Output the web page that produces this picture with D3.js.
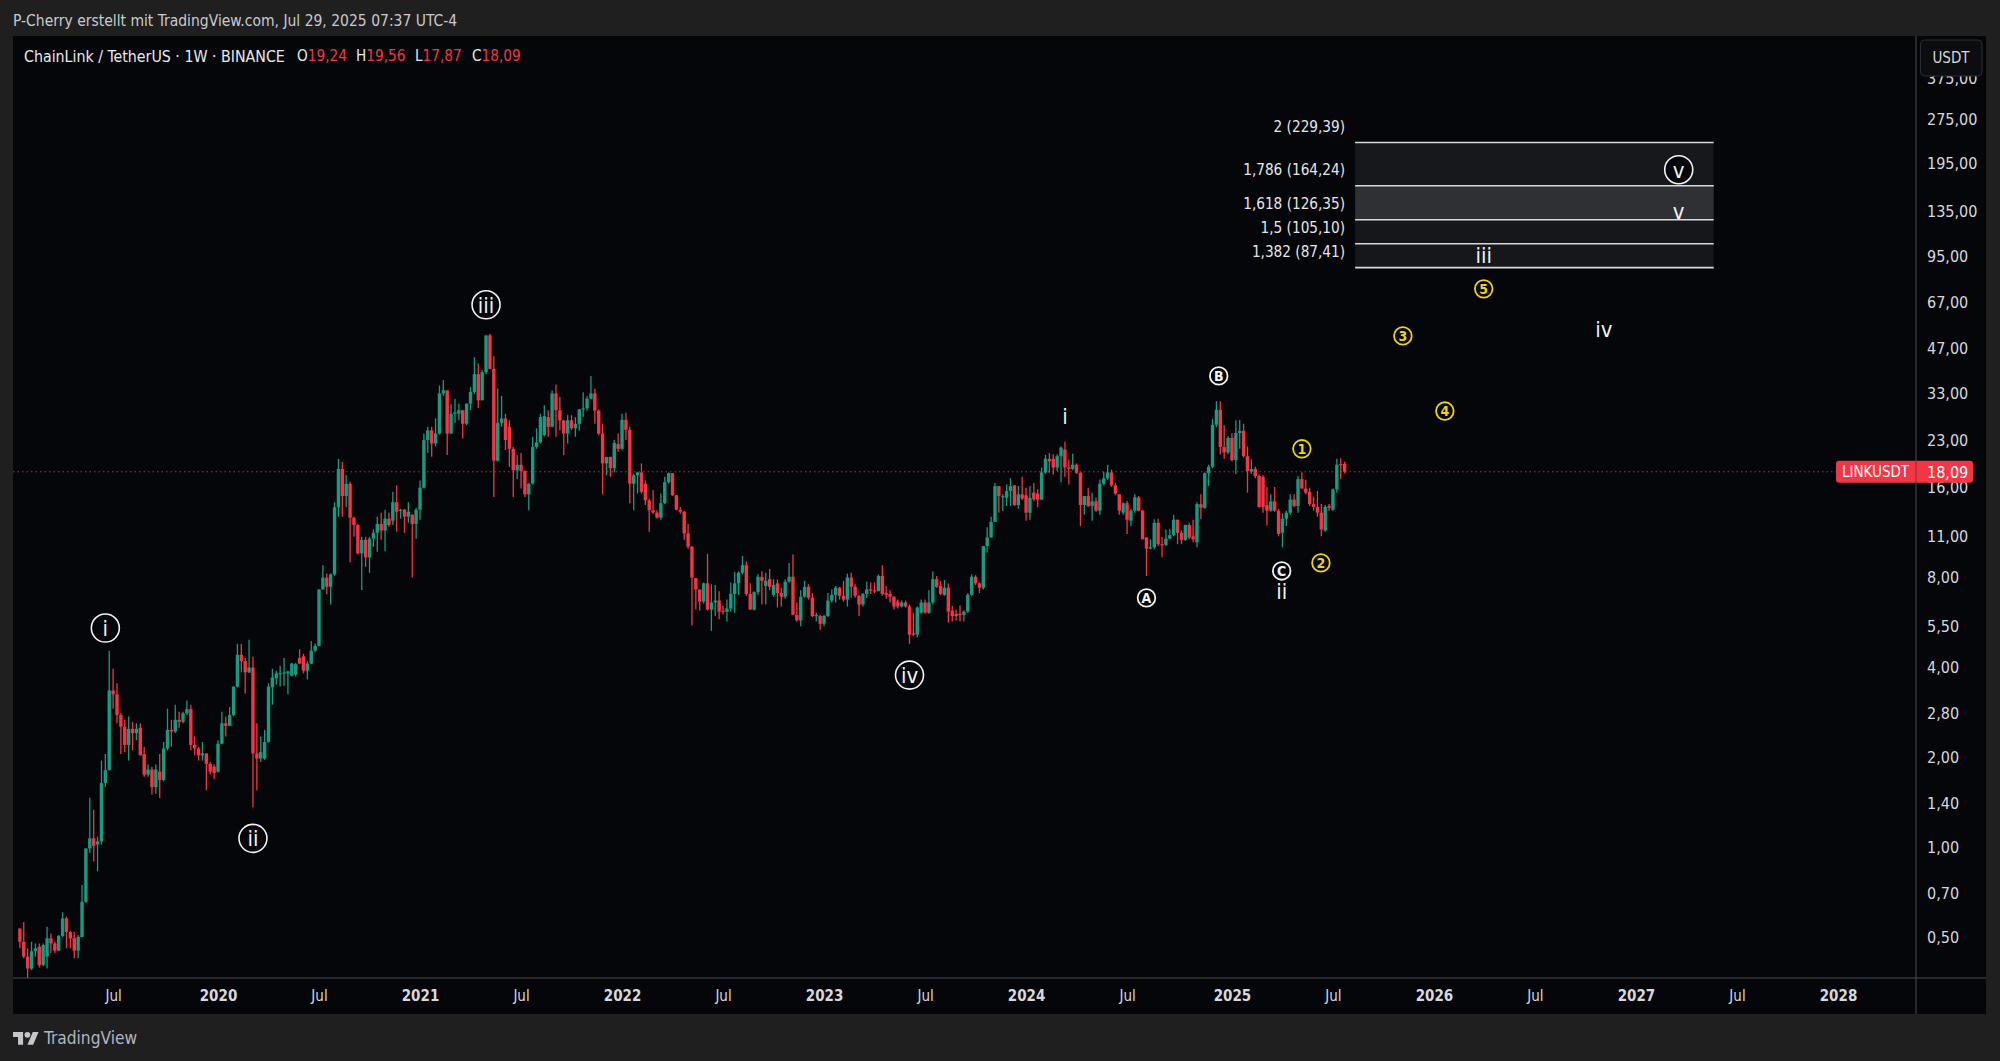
<!DOCTYPE html>
<html>
<head>
<meta charset="utf-8">
<script src="https://cdn.jsdelivr.net/npm/d3@7/dist/d3.min.js"></script>
<style>
  html, body { margin: 0; padding: 0; background: #1f1f1f; overflow: hidden; }
  svg text { font-family: "DejaVu Sans Condensed", "DejaVu Sans", sans-serif; }
</style>
</head>
<body>
<svg id="chart" width="2000" height="1061"></svg>
<script>
// weekly candles, first bar is the week of 14 Jan 2019
var opens = [
  .534,.482,.43,.392,.448,.464,.403,.43,.495,.476,
  .45,.504,.577,.52,.495,.45,.5,.656,.99,1.07,
  1.02,1.045,1.64,1.81,3.35,3.25,2.77,2.53,2.2,2.49,
  2.41,2.51,2.05,1.75,1.82,1.59,1.79,1.68,2.14,2.47,
  2.44,2.67,2.63,2.81,2.9,2.2,2.14,2.03,2.06,1.9,
  1.86,1.79,2.22,2.6,2.55,2.77,3.45,4.41,4.2,3.85,
  4.0,2.06,1.98,1.98,2.25,3.43,3.68,3.82,3.83,3.82,
  3.75,3.78,4.3,4.36,3.9,4.12,4.55,4.72,7.3,8.0,
  7.45,8.2,13.75,18.5,15.0,16.5,12.7,12.0,9.64,10.7,
  9.35,10.8,11.3,12.1,11.5,12.6,12.4,14.3,13.4,13.5,
  12.8,13.0,12.1,13.5,16.0,23.1,24.9,22.5,24.3,33.1,
  33.9,24.3,28.3,28.3,29.1,26.2,30.6,33.5,38.4,31.4,
  39.0,51.8,40.0,19.7,26.4,27.3,25.6,21.6,18.3,19.1,
  18.2,15.2,16.5,21.9,22.7,24.0,27.6,25.6,33.1,29.1,
  26.9,24.3,26.9,25.3,26.2,29.3,29.5,31.8,33.1,29.0,
  24.3,19.3,20.3,18.6,22.4,21.6,27.0,25.0,16.5,17.6,
  18.0,16.5,14.5,13.45,13.2,12.7,14.2,16.7,17.9,15.1,
  13.5,13.3,11.25,10.15,7.97,7.3,6.65,7.65,6.25,6.6,
  6.7,6.2,6.15,6.3,7.05,7.65,8.3,8.8,7.05,6.25,
  7.15,8.05,7.5,7.9,7.0,7.65,7.1,6.9,7.75,8.05,
  6.0,5.75,6.9,7.45,6.85,5.95,5.95,5.6,5.95,6.7,
  7.0,7.4,6.95,6.75,8.0,7.45,6.95,6.5,7.05,7.3,
  7.25,7.2,8.1,7.1,7.05,6.9,6.65,6.4,6.6,6.4,
  5.2,5.15,6.1,6.6,6.1,6.6,7.9,7.5,7.0,7.4,
  6.2,6.05,6.05,6.0,6.15,7.0,8.05,7.65,7.4,10.2,
  10.9,12.3,16.2,15.0,14.8,15.6,16.3,14.0,15.2,15.1,
  13.2,15.4,15.3,14.6,18.0,20.0,20.0,18.7,20.4,21.5,
  18.7,18.5,19.1,17.95,14.0,15.0,13.9,14.4,13.4,16.5,
  17.2,18.0,16.3,15.2,13.2,14.2,12.4,13.4,14.85,13.4,
  10.9,10.0,10.1,12.2,10.35,10.3,10.8,11.1,12.5,11.3,
  10.7,12.0,11.0,10.5,14.1,13.7,17.9,18.8,26.0,29.2,
  21.9,21.0,23.5,19.8,24.4,24.8,20.4,18.1,18.5,17.5,
  17.4,14.0,13.4,14.4,13.4,11.3,12.6,13.2,14.6,13.9,
  17.1,15.9,15.5,14.1,13.8,13.2,11.5,13.9,13.5,15.8,
  19.2,19.24
];
var highs = [
  .534,.561,.458,.482,.476,.476,.476,.541,.514,.482,
  .508,.605,.585,.525,.52,.508,.747,.99,1.465,1.335,
  1.085,1.95,2.05,4.55,3.96,3.54,2.82,2.67,2.74,2.63,
  2.6,2.6,2.17,1.89,1.86,1.89,2.05,2.25,2.91,2.67,
  3.0,2.84,2.84,3.1,3.0,2.35,2.17,2.25,2.06,1.93,
  1.89,2.28,2.84,2.74,2.95,3.45,4.8,4.8,4.3,4.95,
  4.34,2.6,2.35,2.47,3.54,3.96,3.9,4.05,4.3,3.9,
  4.15,4.15,4.6,4.44,4.2,4.9,4.81,7.3,8.8,8.25,
  8.25,14.3,20.0,19.5,17.6,16.8,12.8,12.1,10.96,10.96,
  10.96,11.6,12.8,13.2,13.5,13.2,15.5,16.3,13.6,13.6,
  14.3,13.0,13.7,16.9,24.3,25.6,25.6,27.3,35.2,36.7,
  33.9,30.6,31.7,30.6,29.1,30.6,34.8,43.8,41.7,39.6,
  51.8,52.5,44.1,34.4,32.5,28.3,26.9,21.9,20.6,20.9,
  18.3,16.6,23.7,25.3,28.3,30.2,29.1,33.9,35.5,32.2,
  27.0,28.0,28.0,27.6,29.3,33.4,32.4,37.9,34.3,29.3,
  26.2,20.3,20.3,23.1,24.3,28.3,28.5,25.6,17.8,18.1,
  19.3,16.9,14.7,15.7,13.45,15.3,17.4,18.0,17.9,15.1,
  13.8,13.4,12.1,10.2,7.97,7.3,7.7,9.6,7.6,7.55,
  7.2,6.42,6.75,7.7,8.35,8.4,9.45,9.05,7.65,7.2,
  8.2,8.4,8.3,8.55,7.9,7.88,7.4,7.9,8.95,9.55,
  6.6,7.25,7.8,7.6,7.1,6.1,6.0,6.0,7.1,7.3,
  7.5,7.45,7.8,8.25,8.3,7.6,7.0,7.1,7.75,7.7,
  7.7,8.2,8.8,7.5,7.25,6.95,6.75,6.7,6.7,6.5,
  6.1,6.4,6.75,6.75,7.25,8.4,8.1,7.8,7.85,7.65,
  6.42,6.25,6.45,6.2,7.1,8.2,8.15,7.7,10.2,11.8,
  12.8,16.6,16.2,15.2,16.4,17.2,16.3,16.2,17.4,16.0,
  16.2,16.6,15.8,18.7,20.6,20.9,20.7,20.7,22.0,22.8,
  19.9,20.8,19.3,18.05,15.0,16.0,15.4,14.85,17.05,18.1,
  19.1,18.4,16.6,15.25,14.3,14.45,13.6,15.2,15.0,13.5,
  10.9,10.75,12.55,12.6,10.95,11.6,11.65,13.0,12.5,11.5,
  12.05,12.2,12.5,14.3,15.2,18.0,19.1,27.2,31.2,31.2,
  25.9,23.8,24.4,26.9,27.0,26.2,22.0,19.9,18.8,17.7,
  17.6,16.1,15.2,16.1,13.6,13.1,13.4,15.2,15.2,17.5,
  18.0,17.0,16.0,14.9,15.6,14.1,14.0,14.1,15.9,20.0,
  20.1,19.56
];
var lows = [
  .458,.424,.365,.388,.43,.395,.40,.392,.442,.442,
  .448,.5,.458,.458,.424,.424,.5,.65,.955,.895,
  .83,1.02,1.59,1.81,2.91,2.6,2.05,2.08,1.95,2.11,
  2.28,2.03,1.72,1.72,1.5,1.51,1.46,1.66,2.11,2.17,
  2.41,2.51,2.6,2.77,2.11,2.03,1.95,1.95,1.55,1.75,
  1.69,1.78,2.21,2.35,2.54,2.75,3.43,3.85,3.27,3.83,
  1.36,1.55,1.93,1.96,2.24,3.0,3.5,3.45,3.47,3.25,
  3.74,3.73,4.1,3.82,3.65,4.1,4.5,4.7,7.3,7.03,
  6.5,8.1,12.8,12.8,13.8,9.0,10.96,9.55,7.27,8.7,
  8.3,10.15,9.77,10.7,9.8,11.85,12.0,11.4,12.6,11.3,
  12.2,8.0,10.8,12.5,15.9,20.9,20.3,22.0,24.1,32.5,
  20.6,24.3,26.4,26.9,23.4,25.9,29.1,33.0,29.6,31.4,
  38.4,40.0,14.9,19.6,25.6,21.4,18.8,14.9,17.1,15.9,
  14.9,13.45,16.4,21.6,22.5,23.8,23.7,25.5,23.7,24.9,
  20.6,22.5,25.0,23.7,24.9,27.6,29.0,31.6,26.2,24.0,
  15.2,17.6,17.4,18.0,21.1,21.4,23.1,14.2,13.45,15.3,
  15.3,14.0,11.4,13.1,12.6,12.5,14.1,16.5,15.0,13.45,
  13.1,10.7,10.0,5.53,6.25,6.2,6.55,6.2,5.3,5.95,
  5.8,6.03,5.7,6.15,6.1,7.0,8.2,6.95,6.25,6.2,
  7.0,6.5,6.5,7.25,6.9,6.35,6.4,6.8,7.7,6.0,
  5.7,5.5,6.85,6.75,5.9,5.7,5.35,5.5,5.9,6.6,
  6.6,6.75,6.65,6.4,6.85,6.85,5.95,6.4,6.85,7.05,
  7.1,7.2,6.95,6.8,6.6,6.25,6.3,6.35,6.35,4.8,
  5.1,5.05,6.05,6.05,6.05,6.5,7.4,7.0,6.95,5.65,
  5.7,5.75,5.7,5.7,6.1,6.95,7.55,7.1,7.3,9.7,
  10.9,12.3,13.2,13.4,13.9,13.9,13.9,13.6,14.55,12.4,
  12.5,14.4,13.75,14.55,17.8,17.95,17.7,18.2,16.7,17.4,
  16.4,18.3,17.8,11.9,13.0,13.8,12.4,13.3,13.0,16.3,
  17.0,16.1,15.1,13.0,13.0,11.2,11.9,13.2,13.35,10.75,
  8.1,9.95,9.95,10.2,9.35,10.2,10.75,11.0,10.35,10.35,
  10.6,10.75,10.5,10.1,12.55,13.6,16.2,18.6,25.5,20.7,
  20.0,20.7,19.6,17.8,21.6,20.2,15.4,17.8,17.2,13.7,
  13.2,11.95,13.3,13.3,11.0,10.1,11.9,13.0,13.8,13.2,
  15.9,15.2,13.9,13.4,12.8,11.0,11.4,13.4,13.4,15.4,
  17.1,17.87
];
var closes = [
  .482,.43,.392,.448,.458,.403,.47,.495,.476,.45,
  .504,.577,.52,.495,.45,.5,.656,.99,1.07,1.01,
  1.045,1.64,1.81,3.35,3.25,2.77,2.53,2.2,2.49,2.41,
  2.49,2.03,1.75,1.82,1.59,1.82,1.68,2.14,2.47,2.44,
  2.67,2.63,2.81,2.9,2.2,2.14,2.03,2.06,1.9,1.79,
  1.77,2.22,2.6,2.55,2.77,3.45,4.41,4.2,3.85,4.0,
  2.06,1.98,2.08,2.25,3.45,3.7,3.82,3.83,3.85,3.88,
  4.12,4.1,4.12,3.9,4.12,4.55,4.72,7.3,8.0,7.45,
  8.2,13.75,18.5,15.0,16.5,12.7,12.0,9.64,10.7,9.35,
  10.8,11.3,12.1,11.5,12.6,12.0,14.3,13.3,13.5,12.8,
  13.3,12.1,13.5,16.0,23.1,24.9,22.5,24.3,33.1,33.9,
  24.3,28.3,28.6,29.1,26.2,30.6,33.5,38.4,31.4,39.0,
  51.8,40.0,19.7,26.4,27.3,23.1,21.6,18.3,19.1,18.2,
  15.2,16.5,21.9,22.7,27.6,27.8,25.6,33.1,29.1,26.9,
  24.3,26.9,25.3,26.2,29.3,29.5,31.8,33.1,29.0,24.3,
  19.3,20.3,18.6,22.6,21.6,27.0,25.0,16.5,17.6,18.0,
  15.5,14.5,13.45,13.2,12.7,14.2,16.7,17.9,15.1,13.5,
  13.3,11.25,10.15,8.0,7.3,6.65,7.65,6.25,6.6,6.7,
  6.15,6.15,6.3,7.05,7.65,8.3,8.8,7.05,6.25,7.15,
  8.05,7.8,7.8,7.45,7.55,7.1,6.9,7.75,8.05,6.0,
  5.75,6.9,7.45,6.85,5.95,6.0,5.6,5.95,6.7,7.0,
  7.4,6.95,6.75,8.0,7.45,6.95,6.5,7.05,7.3,7.25,
  7.2,8.1,7.05,7.0,6.9,6.4,6.4,6.6,6.4,5.15,
  5.15,6.35,6.6,6.1,6.6,7.9,7.45,7.05,7.4,6.15,
  5.95,5.95,6.0,6.15,7.0,8.05,7.65,7.4,10.2,10.9,
  12.3,16.2,15.0,15.0,15.6,16.2,14.0,15.2,14.7,13.2,
  14.8,14.65,14.6,18.0,20.0,19.6,18.7,20.4,21.8,18.7,
  18.5,19.1,17.95,14.0,15.0,13.9,14.4,13.4,16.5,17.2,
  18.0,16.3,15.3,13.4,14.2,12.5,13.4,14.85,13.4,10.75,
  10.0,10.1,12.2,10.35,10.3,10.8,11.1,12.5,11.3,10.7,
  12.0,10.9,10.75,14.1,13.7,17.9,18.8,26.0,29.2,21.9,
  21.0,23.5,19.8,24.4,24.8,20.4,18.2,18.5,17.5,13.8,
  13.8,13.4,14.4,13.4,11.2,12.6,13.2,14.6,13.9,17.1,
  15.9,15.4,14.1,13.8,13.2,11.6,13.8,13.7,15.8,19.1,
  19.15,18.09
];

var lastPrice = 18.09;
var priceTicks = [0.5,0.7,1,1.4,2,2.8,4,5.5,8,11,16,23,33,47,67,95,135,195,275,375];
var timeTicks = ["2019-07-01","2020-01-06","2020-07-06","2021-01-04","2021-07-05","2022-01-03","2022-07-04","2023-01-02",
  "2023-07-03","2024-01-01","2024-07-01","2025-01-06","2025-07-07","2026-01-05","2026-07-06","2027-01-04","2027-07-05","2028-01-03"];

// fib extension box, weeks are counted from the first bar
var fibLevels = ["2","1,786","1,618","1,5","1,382"];
var fibPrices = [229.39,164.24,126.35,105.10,87.41];
var fibFills = ["#17181b","#2f3034","#16171a","#16171a"];
var fibStartWeek = 343.7, fibEndWeek = 436;

// elliott wave counts
var bigLabels = ["i","ii","iii","iv","v"];
var bigWeeks = [22,60,120,229,427];
var bigPrices = [5.42,1.07,65.6,3.77,186];
var plainLabels = ["i","ii","iii","iv","v"];
var plainWeeks = [269,324.8,376.8,407.7,427];
var plainPrices = [27.9,7.2,96.4,54.5,135.5];
var abcLabels = ["A","B","C"];
var abcWeeks = [290,308.6,324.8];
var abcPrices = [6.84,37.9,8.42];
var yellowLabels = ["1","2","3","4","5"];
var yellowWeeks = [330,334.9,356,366.8,376.8];
var yellowPrices = [21.6,8.96,51.6,28.9,74.2];

var UP = "#1a9a80", DOWN = "#f23645", TEXT = "#d6d8de", LINE = "#4a4b50", YELLOW = "#f0d316";
var left = 13, top_ = 36, right = 1986, axisX = 1916, axisY = 978, bottom = 1014;

var svg = d3.select("#chart");

function weekDate(w) { return new Date(Date.UTC(2019, 0, 14) + w * 7 * 864e5); }
function comma(v) { return d3.format(".2f")(v).replace(".", ","); }

var x = d3.scaleUtc()
  .domain([new Date("2020-01-06"), new Date("2028-01-03")])
  .range([218, 1838]);
var y = d3.scaleLog()
  .domain([0.5, 275])
  .range([937, 119]);

// panel
svg.append("rect").attr("x", left).attr("y", top_).attr("width", right - left).attr("height", bottom - top_).attr("fill", "#05060a");

// axes
var yAxis = d3.axisRight(y).tickValues(priceTicks).tickFormat(comma).tickSize(0).tickPadding(11);
var yg = svg.append("g").attr("transform", "translate(" + axisX + ",0)").call(yAxis);
yg.select(".domain").remove();
yg.selectAll("text").attr("font-size", 16).attr("fill", TEXT);

var xAxis = d3.axisBottom(x)
  .tickValues(timeTicks.map(function(d) { return new Date(d); }))
  .tickFormat(function(d) { return d.getUTCMonth() == 0 ? d.getUTCFullYear() : "Jul"; })
  .tickSize(0).tickPadding(12);
var xg = svg.append("g").attr("transform", "translate(0," + axisY + ")").call(xAxis);
xg.select(".domain").remove();
xg.selectAll("text").attr("font-size", 15).attr("fill", TEXT)
  .attr("font-weight", function(d) { return d.getUTCMonth() == 0 ? "bold" : "normal"; });

svg.append("line").attr("x1", left).attr("x2", right).attr("y1", axisY).attr("y2", axisY).attr("stroke", LINE);
svg.append("line").attr("x1", axisX).attr("x2", axisX).attr("y1", top_).attr("y2", bottom).attr("stroke", LINE);

// last price line
svg.append("line").attr("x1", left).attr("x2", axisX)
  .attr("y1", y(lastPrice)).attr("y2", y(lastPrice))
  .attr("stroke", DOWN).attr("stroke-opacity", .8).attr("stroke-dasharray", "1.5 3");

// candles
var bars = svg.append("g").selectAll("g").data(closes).enter().append("g")
  .attr("fill", function(d, i) { return d >= opens[i] ? UP : DOWN; })
  .attr("stroke", function(d, i) { return d >= opens[i] ? UP : DOWN; });
bars.append("line")
  .attr("x1", function(d, i) { return x(weekDate(i)); })
  .attr("x2", function(d, i) { return x(weekDate(i)); })
  .attr("y1", function(d, i) { return y(highs[i]); })
  .attr("y2", function(d, i) { return y(lows[i]); })
  .attr("stroke-width", 1.3);
bars.append("rect")
  .attr("x", function(d, i) { return x(weekDate(i)) - 1.7; })
  .attr("width", 3.4)
  .attr("y", function(d, i) { return y(Math.max(d, opens[i])); })
  .attr("height", function(d, i) { return Math.max(1.2, Math.abs(y(d) - y(opens[i]))); })
  .attr("stroke", "none");

// fib box
var fibX1 = x(weekDate(fibStartWeek)), fibX2 = x(weekDate(fibEndWeek));
fibFills.forEach(function(c, i) {
  svg.append("rect").attr("x", fibX1).attr("width", fibX2 - fibX1)
    .attr("y", y(fibPrices[i])).attr("height", y(fibPrices[i + 1]) - y(fibPrices[i]))
    .attr("fill", c);
});
fibPrices.forEach(function(p, i) {
  svg.append("line").attr("x1", fibX1).attr("x2", fibX2).attr("y1", y(p)).attr("y2", y(p))
    .attr("stroke", "#d8d9dc").attr("stroke-width", 1.6);
  svg.append("text").attr("x", fibX1 - 10).attr("y", y(p) - 15)
    .attr("text-anchor", "end").attr("dominant-baseline", "middle")
    .attr("font-size", 15.2).attr("fill", "#e4e5e8")
    .text(fibLevels[i] + " (" + comma(p) + ")");
});

// wave labels
function circled(labels, weeks, prices, r, size, color, sw, weight) {
  labels.forEach(function(t, i) {
    var g = svg.append("g").attr("transform", "translate(" + x(weekDate(weeks[i])) + "," + y(prices[i]) + ")");
    g.append("circle").attr("r", r).attr("fill", "#05060a").attr("stroke", color).attr("stroke-width", sw);
    g.append("text").attr("text-anchor", "middle").attr("dy", "0.36em")
      .attr("font-size", size).attr("font-weight", weight).attr("fill", color).text(t);
  });
}
circled(bigLabels, bigWeeks, bigPrices, 14, 22, "#f2f2f2", 1.6, "normal");
circled(abcLabels, abcWeeks, abcPrices, 8.8, 14, "#f2f2f2", 1.8, "bold");
circled(yellowLabels, yellowWeeks, yellowPrices, 8.8, 14, YELLOW, 1.8, "bold");
plainLabels.forEach(function(t, i) {
  svg.append("text").attr("x", x(weekDate(plainWeeks[i]))).attr("y", y(plainPrices[i]))
    .attr("text-anchor", "middle").attr("dy", "0.36em")
    .attr("font-size", 22).attr("fill", "#f2f2f2").text(t);
});

// last price tag
var tag = svg.append("g");
tag.append("rect").attr("x", 1836).attr("y", y(lastPrice) - 11).attr("width", 137).attr("height", 22).attr("rx", 3).attr("fill", DOWN);
tag.append("line").attr("x1", axisX).attr("x2", axisX).attr("y1", y(lastPrice) - 11).attr("y2", y(lastPrice) + 11).attr("stroke", "#8a2a35");
tag.append("text").attr("x", 1842).attr("y", y(lastPrice)).attr("dy", "0.36em").attr("font-size", 15).attr("fill", "#fff").text("LINKUSDT");
tag.append("text").attr("x", 1927).attr("y", y(lastPrice)).attr("dy", "0.36em").attr("font-size", 16).attr("fill", "#fff").text(comma(lastPrice));

// currency button sits over the top tick
svg.append("rect").attr("x", 1920.5).attr("y", 40).attr("width", 61.5).attr("height", 36).attr("rx", 4)
  .attr("fill", "#0c0d11").attr("stroke", "#2c2d33");
svg.append("text").attr("x", 1951).attr("y", 58).attr("dy", "0.36em").attr("text-anchor", "middle")
  .attr("font-size", 15).attr("fill", TEXT).text("USDT");

// header and legend
svg.append("text").attr("x", 13).attr("y", 20).attr("dy", "0.36em").attr("font-size", 15.5).attr("fill", "#c8cad0")
  .text("P-Cherry erstellt mit TradingView.com, Jul 29, 2025 07:37 UTC-4");
svg.append("text").attr("x", 24).attr("y", 56).attr("dy", "0.36em").attr("font-size", 15.8).attr("fill", "#e8e9ec")
  .text("ChainLink / TetherUS · 1W · BINANCE");
[["O","19,24",297],["H","19,56",356],["L","17,87",415],["C","18,09",472]].forEach(function(d) {
  var t = svg.append("text").attr("x", d[2]).attr("y", 56).attr("dy", "0.36em").attr("font-size", 15.2);
  t.append("tspan").attr("fill", "#e8e9ec").text(d[0]);
  t.append("tspan").attr("fill", DOWN).text(d[1]);
});

// watermark
var logo = svg.append("g").attr("transform", "translate(13,1029) scale(0.72)").attr("fill", "#c4c6cc");
logo.append("path").attr("d", "M14 22H7V11H0V4h14v18zM28 22h-8l7.5-18h8L28 22z");
logo.append("circle").attr("cx", 20).attr("cy", 8).attr("r", 4);
svg.append("text").attr("x", 44).attr("y", 1038).attr("dy", "0.36em").attr("font-size", 17.2).attr("fill", "#b2b5be").text("TradingView");
</script>
</body>
</html>
